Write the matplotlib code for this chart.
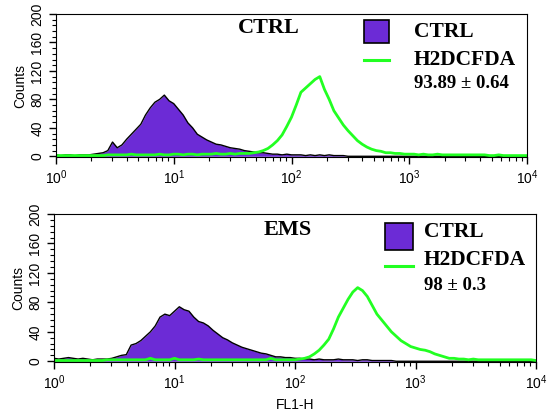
import matplotlib.pyplot as plt
import numpy as np
from matplotlib.patches import Rectangle
from matplotlib.lines import Line2D
from matplotlib.ticker import LogLocator, MultipleLocator, NullFormatter

plt.rcParams['font.family'] = 'Liberation Sans'

# channel positions, 25 bins per decade from 10^0 to 10^4
log_fl = np.linspace(0, 4, 101)

ctrl_top = [2, 1, 2, 2, 1, 2, 2, 2, 3, 4,
            5, 8, 20, 12, 16, 24, 31, 38, 45, 58,
            68, 76, 80, 86, 78, 74, 66, 58, 47, 40,
            31, 27, 23, 20, 17, 16, 14, 12, 11, 10,
            8, 7, 6, 5, 5, 4, 3, 3, 2, 3,
            2, 2, 2, 1, 2, 1, 2, 1, 2, 1,
            1, 1, 0, 0, 0, 0, 0, 0, 0, 0,
            0, 0, 0, 0, 0, 0, 0, 0, 0, 0,
            0, 0, 0, 0, 0, 0, 0, 0, 0, 0,
            0, 0, 0, 0, 0, 0, 0, 0, 0, 0, 0]

h2dcfda_top = [1, 1, 1, 1, 1, 1, 1, 1, 1, 1,
               1, 2, 2, 2, 2, 2, 3, 2, 2, 2,
               2, 2, 3, 2, 2, 3, 3, 2, 3, 3,
               2, 3, 3, 3, 4, 3, 3, 4, 3, 4,
               4, 4, 5, 6, 8, 11, 16, 22, 30, 42,
               55, 72, 90, 96, 102, 108, 112, 94, 80, 64,
               54, 44, 36, 29, 22, 17, 13, 10, 8, 7,
               5, 5, 4, 4, 3, 3, 3, 2, 3, 2,
               2, 3, 2, 2, 2, 2, 2, 2, 2, 2,
               2, 2, 1, 1, 2, 1, 1, 1, 1, 1, 1]

ctrl_ems = [4, 3, 4, 5, 4, 3, 4, 3, 2, 3,
            3, 3, 4, 6, 8, 9, 22, 24, 28, 34,
            40, 48, 60, 64, 62, 68, 74, 70, 68, 60,
            54, 52, 48, 42, 37, 32, 29, 25, 22, 19,
            17, 15, 13, 11, 10, 8, 6, 6, 5, 5,
            4, 4, 3, 3, 2, 3, 2, 2, 2, 3,
            2, 2, 2, 1, 2, 2, 1, 1, 1, 1,
            1, 0, 0, 0, 0, 0, 0, 0, 0, 0,
            0, 0, 0, 0, 0, 0, 0, 0, 0, 0,
            0, 0, 0, 0, 0, 0, 0, 0, 0, 0, 0]

h2dcfda_ems = [1, 1, 1, 1, 1, 1, 1, 1, 1, 1,
               1, 2, 2, 2, 2, 2, 2, 2, 2, 2,
               4, 2, 2, 2, 2, 4, 2, 2, 2, 2,
               3, 2, 2, 2, 2, 2, 2, 2, 2, 2,
               2, 2, 2, 2, 2, 4, 2, 2, 2, 2,
               2, 3, 4, 6, 10, 15, 22, 30, 44, 60,
               72, 84, 94, 100, 96, 88, 76, 64, 56, 48,
               40, 34, 28, 24, 20, 18, 16, 15, 13, 10,
               8, 6, 4, 4, 3, 3, 2, 3, 2, 2,
               2, 2, 2, 2, 2, 2, 2, 2, 2, 2, 1]

panels = [("CTRL", ctrl_top, h2dcfda_top, "93.89 \u00b1 0.64"),
          ("EMS", ctrl_ems, h2dcfda_ems, "98 \u00b1 0.3")]

purple = "#6c2bd6"
green = "#22ff22"
W, H = 547, 416


def px(x, y):
    return x / W, 1 - y / H


fig = plt.figure(figsize=(W / 100, H / 100), dpi=100)
# axes boxes in pixels: left, top, right, bottom
boxes = [(56, 14, 527, 157), (54, 214, 536, 362)]
# title, legend square, legend texts (pixel positions)
title_pos = [(269, 28), (288, 230)]
leg_pos = [(364, 20, 389, 43, 60, 414, [32, 60, 83]),
           (385, 223, 413, 250, 266, 424, [232, 260, 285])]

x = 10 ** log_fl
for k, (name, ctrl, dcf, stat) in enumerate(panels):
    l, t, r, b = boxes[k]
    ax = fig.add_axes([l / W, 1 - b / H, (r - l) / W, (b - t) / H])
    ax.fill_between(x, 0, ctrl, color=purple, lw=0)
    ax.plot(x, ctrl, color="black", lw=1.0)
    ax.plot(x, dcf, color=green, lw=2.0)
    ax.set_xscale("log")
    ax.set_xlim(1, 1e4)
    ax.set_ylim(-1, 200)
    ax.yaxis.set_major_locator(MultipleLocator(40))
    ax.yaxis.set_minor_locator(MultipleLocator(8))
    ax.xaxis.set_minor_locator(LogLocator(base=10, subs=np.arange(2, 10)))
    ax.xaxis.set_minor_formatter(NullFormatter())
    ax.tick_params(axis="both", which="major", length=5, width=1, labelsize=10)
    ax.tick_params(axis="both", which="minor", length=3, width=0.8)
    ax.tick_params(axis="y", labelrotation=90, labelsize=10)
    for lab in ax.get_yticklabels():
        lab.set_va("center")
    ax.set_ylabel("Counts", fontsize=10, labelpad=2)
    if k == 1:
        ax.set_xlabel("FL1-H", fontsize=10, labelpad=4)

    tx, ty = title_pos[k]
    fig.text(*px(tx, ty), name, ha="center", va="center", fontsize=16,
             fontweight="bold", family="Liberation Serif")
    sx0, sy0, sx1, sy1, gy, lx, ys = leg_pos[k]
    fig.patches.append(Rectangle(px(sx0, sy1), (sx1 - sx0) / W, (sy1 - sy0) / H,
                                 transform=fig.transFigure, facecolor=purple,
                                 edgecolor="black", lw=1.2))
    fig.lines.append(Line2D([sx0 / W, sx1 / W], [1 - gy / H] * 2,
                            transform=fig.transFigure, color=green, lw=2.2))
    for txt, yy, fs in zip(["CTRL", "H2DCFDA", stat], ys, [15.5, 15.5, 13.5]):
        fig.text(*px(lx, yy), txt, ha="left", va="center", fontsize=fs,
                 fontweight="bold", family="Liberation Serif")

fig.savefig("out.png", dpi=100)
